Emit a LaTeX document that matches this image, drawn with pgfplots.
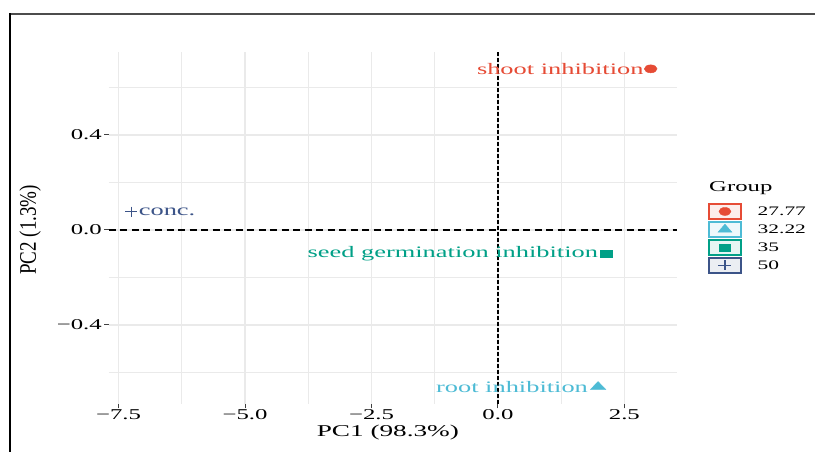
\documentclass[border=0pt]{standalone}
\usepackage{fontspec}
\setmainfont[FakeStretch=1.65]{Liberation Serif}
\newfontfamily\plainserif{Liberation Serif}
\usepackage{graphicx}
\usepackage{pgfplots}
\pgfplotsset{compat=1.18}
\definecolor{npgred}{HTML}{E64B35}
\definecolor{npgcyan}{HTML}{4DBBD5}
\definecolor{npgteal}{HTML}{00A087}
\definecolor{npgnavy}{HTML}{3C5488}
\definecolor{gridgray}{HTML}{EAEAEA}
\begin{document}
\begin{tikzpicture}[x=1pt,y=1pt]
\useasboundingbox (0,0) rectangle (815,452);
\fill[white] (0,0) rectangle (815,452);
\draw[line width=1.5pt, color=black!70] (10,438) -- (815,438);
\draw[line width=1.2pt] (10,438.75) -- (10,0);
\begin{axis}[
  at={(109pt,48pt)}, anchor=south west,
  scale only axis, width=568pt, height=352pt,
  xmin=-7.69, xmax=3.54, ymin=-0.733, ymax=0.749,
  axis x line*=bottom, axis y line*=left,
  axis line style={draw=none},
  xtick={-7.5,-5,-2.5,0,2.5}, xticklabels={−7.5,−5.0,−2.5,0.0,2.5},
  ytick={-0.4,0,0.4}, yticklabels={−0.4,0.0,0.4},
  minor xtick={-6.25,-3.75,-1.25,1.25}, minor ytick={-0.6,-0.2,0.2,0.6},
  grid=both,
  major grid style={color=gridgray, line width=1.5pt},
  minor grid style={color=gridgray, line width=0.9pt},
  tick align=outside, major tick length=4.5pt, minor tick length=0pt,
  tick style={color=black!75, line width=1pt},
  ticklabel style={font=\fontsize{15}{18}\selectfont, text=black},
  xticklabel style={inner sep=1pt},
  yticklabel style={inner sep=2.5pt},
  xlabel={PC1 (98.3\%)},
  xlabel style={at={(axis description cs:0.491,0)}, anchor=north, yshift=-21pt, inner sep=0pt, font=\fontsize{16.5}{20}\selectfont},
  ylabel={\plainserif\scalebox{1}[1.25]{PC2 (1.3\%)}},
  ylabel style={at={(axis description cs:-0.139,0.495)}, anchor=center, inner sep=0pt, font=\fontsize{19}{22}\selectfont},
  legend style={at={(1.0546,0.571)}, anchor=north west, draw=none, fill=none,
    font=\fontsize{13}{15}\selectfont, row sep=1.5pt, inner sep=0pt,
    nodes={inner sep=0pt},
    /tikz/every odd column/.style={column sep=16pt}},
  legend cell align=left,
]
\addplot[only marks, mark=*, mark size=4pt, color=npgred, mark options={xscale=1.6},
  nodes near coords={shoot inhibition},
  every node near coord/.append style={anchor=east, xshift=-7pt, font=\fontsize{16}{19}\selectfont, text=npgred, inner sep=0pt},
  legend image code/.code={
    \draw[draw=npgred, fill=npgred!10, line width=1.5pt, solid] (0pt,-7.5pt) rectangle (32pt,7.5pt);
    \draw[only marks, mark=*, mark size=4pt, mark options={xscale=1.5, draw=npgred, fill=npgred}] plot coordinates {(16pt,0pt)};}
] coordinates {(3.02,0.678)};
\addlegendentry{27.77}
\addplot[only marks, mark=triangle*, mark size=5.3pt, color=npgcyan, mark options={xscale=1.7},
  nodes near coords={root inhibition},
  every node near coord/.append style={anchor=east, xshift=-10pt, font=\fontsize{16}{19}\selectfont, text=npgcyan, inner sep=0pt},
  legend image code/.code={
    \draw[draw=npgcyan, fill=npgcyan!10, line width=1.5pt, solid] (0pt,-7.5pt) rectangle (32pt,7.5pt);
    \draw[only marks, mark=triangle*, mark size=5.3pt, mark options={xscale=1.5, draw=npgcyan, fill=npgcyan}] plot coordinates {(16pt,0pt)};}
] coordinates {(1.98,-0.661)};
\addlegendentry{32.22}
\addplot[only marks, mark=square*, mark size=3.6pt, color=npgteal, mark options={xscale=1.7},
  nodes near coords={seed germination inhibition},
  every node near coord/.append style={anchor=east, xshift=-8pt, font=\fontsize{16}{19}\selectfont, text=npgteal, inner sep=0pt},
  legend image code/.code={
    \draw[draw=npgteal, fill=npgteal!10, line width=1.5pt, solid] (0pt,-7.5pt) rectangle (32pt,7.5pt);
    \draw[only marks, mark=square*, mark size=3.6pt, mark options={xscale=1.5, draw=npgteal, fill=npgteal}] plot coordinates {(16pt,0pt)};}
] coordinates {(2.14,-0.101)};
\addlegendentry{35}
\addplot[only marks, mark=+, mark size=5pt, color=npgnavy, mark options={xscale=1.2, line width=1.2pt},
  nodes near coords={conc.},
  every node near coord/.append style={anchor=west, xshift=7pt, font=\fontsize{16}{19}\selectfont, text=npgnavy, inner sep=0pt},
  legend image code/.code={
    \draw[draw=npgnavy, fill=npgnavy!10, line width=1.5pt, solid] (0pt,-7.5pt) rectangle (32pt,7.5pt);
    \draw[only marks, mark=+, mark size=5pt, mark options={xscale=1.3, line width=1.4pt, draw=npgnavy}] plot coordinates {(16pt,0pt)};}
] coordinates {(-7.25,0.077)};
\addlegendentry{50}
\addplot[forget plot, black, line width=1.3pt, dash pattern=on 7pt off 4.5pt] coordinates {(-7.69,0) (3.54,0)};
\addplot[forget plot, black, line width=2.2pt, dash pattern=on 3.5pt off 2.5pt] coordinates {(0,-0.733) (0,0.749)};
\end{axis}
\node[anchor=west, inner sep=0pt, font=\fontsize{15}{18}\selectfont] at (709,264) {Group};
\end{tikzpicture}
\end{document}
